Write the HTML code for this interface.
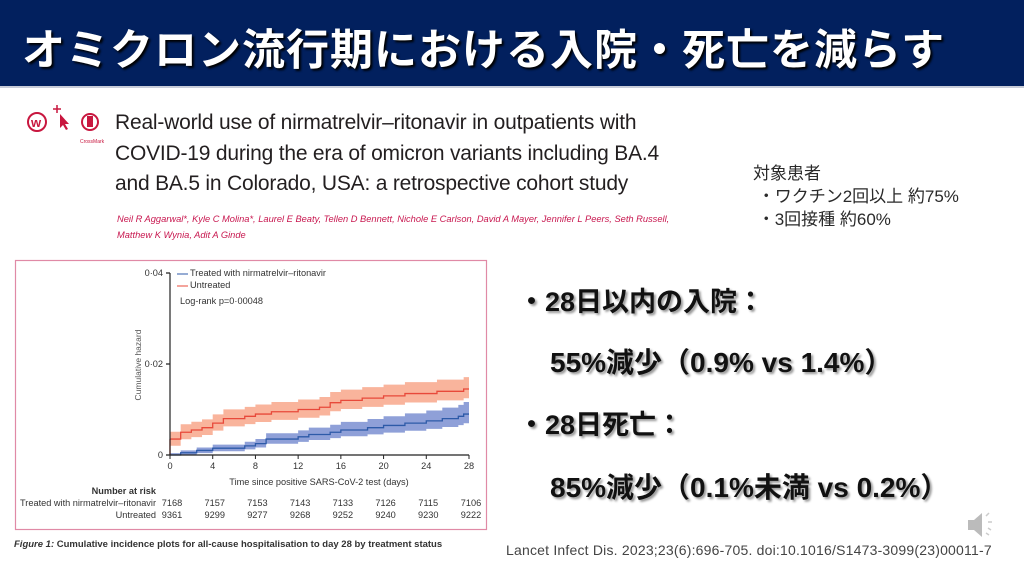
<!DOCTYPE html>
<html><head><meta charset="utf-8"><style>
body{margin:0;width:1024px;height:576px;overflow:hidden;background:#fff;position:relative;font-family:"Liberation Sans","Noto Sans CJK JP",sans-serif}
.a{position:absolute;white-space:nowrap}
#hdr{left:0;top:0;width:1024px;height:86px;background:#02205e;border-bottom:2px solid #c8ccd8}
#ttl{left:22px;top:16px;font-size:43px;font-weight:bold;color:#fff;text-shadow:2px 2px 2px #000;letter-spacing:1px}
.pt{font-family:"Liberation Sans","Noto Sans CJK JP",sans-serif;color:#2a2a2a}
.big{font-size:27px;font-weight:bold;color:#111;text-shadow:2px 2px 2px #999}
</style></head><body>
<div class="a" id="hdr"></div>
<div class="a" id="ttl">オミクロン流行期における入院・死亡を減らす</div>
<svg class="a" style="left:0;top:0" width="1024" height="576">
<g fill="none" stroke="#c8173f" stroke-width="2">
<circle cx="37" cy="122" r="9"/><circle cx="90" cy="122" r="8"/></g>
<text x="31" y="127" font-size="13" fill="#c8173f" font-weight="bold" font-family="Liberation Sans">w</text>
<path d="M60 114 l0 14 l3-3 l3 5 l2-1 l-3-5 l4 0z" fill="#c8173f"/>
<path d="M57 105v8M53 109h8" stroke="#c8173f" stroke-width="1.5"/>
<rect x="87" y="116" width="6" height="11" fill="#c8173f"/>
<text x="80" y="143" font-size="5" fill="#c8173f">CrossMark</text>
<rect x="15.5" y="260.5" width="471" height="269" fill="none" stroke="#e08aa6" stroke-width="1.2"/>
<g id="ch"></g>
<g font-family="Liberation Sans" font-size="9.2" fill="#333">
<text x="163" y="276" text-anchor="end">0·04</text>
<text x="163" y="367" text-anchor="end">0·02</text>
<text x="163" y="458" text-anchor="end">0</text>
<text transform="translate(141,365) rotate(-90)" text-anchor="middle" font-size="8.5" fill="#555">Cumulative hazard</text>
<text x="190" y="276">Treated with nirmatrelvir–ritonavir</text>
<text x="190" y="288">Untreated</text>
<text x="180" y="304">Log-rank p=0·00048</text>
<text x="319" y="485" text-anchor="middle">Time since positive SARS-CoV-2 test (days)</text>
<text x="156" y="494" text-anchor="end" font-weight="bold">Number at risk</text>
<text x="156" y="506" text-anchor="end">Treated with nirmatrelvir–ritonavir</text>
<text x="156" y="518" text-anchor="end">Untreated</text>
<text x="14" y="547" font-size="9.5" font-weight="bold" fill="#333"><tspan font-style="italic">Figure 1:</tspan> Cumulative incidence plots for all-cause hospitalisation to day 28 by treatment status</text>
</g>
<path d="M968 520h6l8-7v24l-8-7h-6z" fill="#bbb"/>
<path d="M986 516l3-3M988 522h4M988 528l3 2M986 533l3 2" stroke="#ccc" stroke-width="1.5"/>
</svg>
<div class="a" style="left:115px;top:108px;font-size:21px;line-height:30.5px;color:#231f20;font-family:'Liberation Sans',sans-serif;letter-spacing:-0.2px">Real-world use of nirmatrelvir–ritonavir in outpatients with<br>COVID-19 during the era of omicron variants including BA.4<br>and BA.5 in Colorado, USA: a retrospective cohort study</div>
<div class="a" style="left:117px;top:211px;font-size:9.3px;line-height:16px;color:#c8174f;font-style:italic;font-family:'Liberation Sans',sans-serif">Neil R Aggarwal*, Kyle C Molina*, Laurel E Beaty, Tellen D Bennett, Nichole E Carlson, David A Mayer, Jennifer L Peers, Seth Russell,<br>Matthew K Wynia, Adit A Ginde</div>
<div class="a pt" style="left:753px;top:162px;font-size:17px;line-height:23px">対象患者<br>&nbsp;・ワクチン2回以上 約75%<br>&nbsp;・3回接種 約60%</div>
<div class="a big" style="left:518px;top:280px">・28日以内の入院：</div>
<div class="a big" style="left:550px;top:341px;font-size:28px">55%減少（0.9% vs 1.4%）</div>
<div class="a big" style="left:518px;top:403px">・28日死亡：</div>
<div class="a big" style="left:550px;top:466px;font-size:28px">85%減少（0.1%未満 vs 0.2%）</div>
<div class="a" style="left:506px;top:542px;font-size:14px;color:#444;letter-spacing:0.2px">Lancet Infect Dis. 2023;23(6):696-705. doi:10.1016/S1473-3099(23)00011-7</div>
<script>
const X=d=>170+d*299/28, Y=v=>455-v*4550;
function step(pts){let s='M'+X(pts[0][0])+' '+Y(pts[0][1]);for(let i=1;i<pts.length;i++){s+=' H'+X(pts[i][0])+' V'+Y(pts[i][1]);}s+=' H'+X(28);return s;}
function band(pts,lo,hi){let up=pts.map(p=>[p[0],p[1]+hi(p[1])]),dn=pts.map(p=>[p[0],Math.max(0,p[1]-lo(p[1]))]);
let s=step(up);for(let i=dn.length-1;i>=0;i--){let nx=i==dn.length-1?28:dn[i+1][0];s+=' L'+X(nx)+' '+Y(dn[i][1])+' H'+X(dn[i][0]);}return s+'Z';}
const red=[[0,0.0035],[1,0.005],[2,0.0055],[3,0.006],[4,0.007],[5,0.008],[7,0.0085],[8,0.009],[9.5,0.0095],[12,0.01],[14,0.0105],[15,0.0115],[16,0.012],[18,0.0125],[20,0.013],[22,0.0135],[25,0.014],[27.5,0.0145]];
const blue=[[0,0],[1,0.0005],[2.5,0.001],[4,0.0015],[7,0.002],[8,0.0025],[9,0.0035],[12,0.004],[13,0.0045],[15,0.005],[16,0.0055],[18.5,0.006],[20,0.0065],[22,0.007],[24,0.0075],[25.5,0.008],[27,0.0085],[27.5,0.009]];
let h='';
h+='<path d="'+band(red,v=>0.0013+v*0.05,v=>0.0013+v*0.09)+'" fill="#f9b49c"/>';
h+='<path d="'+band(blue,v=>0.0004+v*0.18,v=>0.0004+v*0.25)+'" fill="#8fa0d8"/>';
h+='<path d="'+step(red)+'" fill="none" stroke="#e8493a" stroke-width="1.3"/>';
h+='<path d="'+step(blue)+'" fill="none" stroke="#2d5aa8" stroke-width="1.3"/>';
h+='<path d="M'+X(0)+' '+Y(0.0035)+'V455" stroke="#e8493a" stroke-width="1.3"/>';
h+='<path d="M170 273V455H469M166 273h4M166 364h4M166 455h4" stroke="#222" stroke-width="1.2" fill="none"/>';
h+='<path d="M177 274h11" stroke="#2d5aa8"/><path d="M177 286h11" stroke="#e8493a"/>';
const risk1=[7168,7157,7153,7143,7133,7126,7115,7106],risk2=[9361,9299,9277,9268,9252,9240,9230,9222];
for(let i=0;i<=7;i++){let x=X(i*4);h+='<path d="M'+x+' 455v4" stroke="#222"/>';
h+='<text x="'+x+'" y="469" text-anchor="middle" font-family="Liberation Sans" font-size="9.2" fill="#333">'+i*4+'</text>';
h+='<text x="'+(x+2)+'" y="506" text-anchor="middle" font-family="Liberation Sans" font-size="9.2" fill="#333">'+risk1[i]+'</text>';
h+='<text x="'+(x+2)+'" y="518" text-anchor="middle" font-family="Liberation Sans" font-size="9.2" fill="#333">'+risk2[i]+'</text>';}
document.getElementById('ch').innerHTML=h;
</script>
</body></html>
